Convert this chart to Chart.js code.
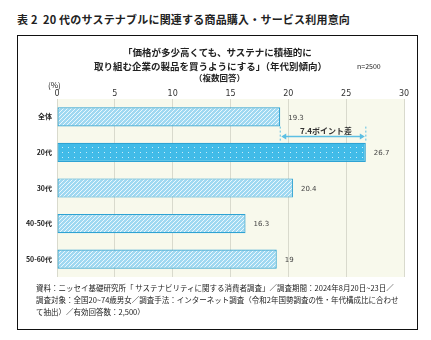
<!DOCTYPE html>
<html>
<head>
<meta charset="utf-8">
<script src="https://cdn.jsdelivr.net/npm/chart.js@4"></script>
<style>
  body { margin: 0; background: #fff; font-family: "Noto Sans CJK JP", sans-serif; }
  #wrap { position: relative; width: 431px; height: 340px; overflow: hidden; }
  #wrap div { position: absolute; white-space: nowrap; color: #222; }
  #fig { left: 17px; top: 11px; font-size: 11px; font-weight: bold; letter-spacing: 0.2px; }
  #box { left: 17px; top: 35px; width: 399px; height: 293px; border: 1.5px solid #111; }
  .ttl { font-size: 9.5px; font-weight: bold; left: 0; width: 431px; text-align: center; }
  #n { left: 357px; top: 61px; font-size: 7px; }
  #multi { left: 194px; top: 71px; font-size: 8.5px; font-weight: bold; }
  #pct { left: 48px; top: 79px; font-size: 8px; }
  #note { left: 36px; top: 282px; font-size: 7.5px; line-height: 12px; }
  canvas { position: absolute; left: 0; top: 0; }
</style>
</head>
<body>
<div id="wrap">
  <div id="fig">表 2&nbsp; 20 代のサステナブルに関連する商品購入・サービス利用意向</div>
  <div id="box"></div>
  <canvas id="chart" width="431" height="340"></canvas>
  <div class="ttl" style="top:45px; left:2px">「価格が多少高くても、サステナに積極的に</div>
  <div class="ttl" style="top:59px; left:-5px">取り組む企業の製品を買うようにする」（年代別傾向）</div>
  <div id="n">n=2500</div>
  <div id="multi">（複数回答）</div>
  <div id="pct">(%)</div>
  <div id="note">資料：ニッセイ基礎研究所「 サステナビリティに関する消費者調査」／調査期間：2024年8月20日~23日／<br>調査対象：全国20~74歳男女／調査手法：インターネット調査（令和2年国勢調査の性・年代構成比に合わせ<br>て抽出）／有効回答数：2,500）</div>
</div>

<script>
// categories and values (%)
const ages = ['全体', '20代', '30代', '40-50代', '50-60代'];
const intent = [19.3, 26.7, 20.4, 16.3, 19];
const xTicks = [0, 5, 10, 15, 20, 25, 30];
const gapLabel = '7.4ポイント差';

// diagonal hatch fill
function hatch() {
    const c = document.createElement('canvas');
    c.width = 4; c.height = 4;
    const g = c.getContext('2d');
    g.fillStyle = '#9fd8f1';
    g.fillRect(0, 0, 4, 4);
    g.strokeStyle = '#eaf7fd';
    g.lineWidth = 1;
    g.beginPath();
    g.moveTo(-1, 5); g.lineTo(5, -1);
    g.moveTo(-1, 1); g.lineTo(1, -1);
    g.moveTo(3, 5); g.lineTo(5, 3);
    g.stroke();
    return g.createPattern(c, 'repeat');
}

// dotted fill for the 20s bar
function dots() {
    const c = document.createElement('canvas');
    c.width = 6; c.height = 5;
    const g = c.getContext('2d');
    g.fillStyle = '#41bbe8';
    g.fillRect(0, 0, 6, 5);
    g.fillStyle = '#c8ecfa';
    g.fillRect(2, 2, 1, 1);
    return g.createPattern(c, 'repeat');
}

const ctx = document.getElementById('chart').getContext('2d');
const hatchFill = hatch();
const dotFill = dots();

// cream plot background
const plotBg = {
    id: 'plotBg',
    beforeDraw(chart) {
        const a = chart.chartArea, g = chart.ctx;
        g.save();
        g.fillStyle = '#f8f9ec';
        g.fillRect(a.left, a.top, a.right - a.left, a.bottom - a.top);
        g.restore();
    }
};

// value labels to the right of each bar
const valueLabels = {
    id: 'valueLabels',
    afterDatasetsDraw(chart) {
        const g = chart.ctx;
        const meta = chart.getDatasetMeta(0);
        g.save();
        g.font = '7px "DejaVu Sans"';
        g.fillStyle = '#444';
        g.textBaseline = 'middle';
        meta.data.forEach((bar, i) => {
            g.fillText(String(intent[i]), bar.x + 8, bar.y + 1);
        });
        g.restore();
    }
};

// gap arrow between 全体 and 20代
const gapArrow = {
    id: 'gapArrow',
    afterDatasetsDraw(chart) {
        const g = chart.ctx;
        const xs = chart.scales.x;
        const meta = chart.getDatasetMeta(0);
        const x1 = xs.getPixelForValue(intent[0]);
        const x2 = xs.getPixelForValue(intent[1]);
        const y = (meta.data[0].y + meta.data[1].y) / 2 + 2;
        g.save();
        g.strokeStyle = '#5cbfe3';
        g.fillStyle = '#5cbfe3';
        g.lineWidth = 1;
        g.setLineDash([2, 2]);
        g.beginPath();
        g.moveTo(x1, y - 10); g.lineTo(x1, y + 6);
        g.moveTo(x2, y - 10); g.lineTo(x2, y + 6);
        g.stroke();
        g.setLineDash([]);
        g.lineWidth = 1.5;
        g.beginPath();
        g.moveTo(x1 + 3, y); g.lineTo(x2 - 3, y);
        g.stroke();
        [[x1, 1], [x2, -1]].forEach(([x, d]) => {
            g.beginPath();
            g.moveTo(x + d, y);
            g.lineTo(x + d * 6, y - 3);
            g.lineTo(x + d * 6, y + 3);
            g.closePath();
            g.fill();
        });
        g.font = 'bold 8px "Noto Sans CJK JP"';
        g.fillStyle = '#333';
        g.textAlign = 'center';
        g.textBaseline = 'bottom';
        g.fillText(gapLabel, (x1 + x2) / 2 + 3, y - 2);
        g.restore();
    }
};

new Chart(ctx, {
    type: 'bar',
    data: {
        labels: ages,
        datasets: [{
            data: intent,
            backgroundColor: ages.map((_, i) => i === 1 ? dotFill : hatchFill),
            borderColor: '#2ea3d3',
            borderWidth: 1.2,
            borderSkipped: false,
            barPercentage: 0.54,
            categoryPercentage: 1
        }]
    },
    options: {
        indexAxis: 'y',
        responsive: false,
        animation: false,
        layout: { padding: { left: 0, top: 0, right: 27, bottom: 63 } },
        plugins: {
            legend: { display: false },
            tooltip: { enabled: false }
        },
        scales: {
            x: {
                position: 'top',
                min: 0,
                max: 30,
                afterBuildTicks: s => { s.ticks = xTicks.map(v => ({ value: v })); },
                afterFit: s => { s.height = 99; },
                grid: { color: '#d9dacd', lineWidth: 1, drawTicks: false },
                border: { display: false },
                ticks: { padding: 0, color: '#333', font: { size: 8, family: 'DejaVu Sans' } }
            },
            y: {
                afterFit: s => { s.width = 57; },
                grid: { display: false, drawTicks: false },
                border: { display: false },
                ticks: { padding: 5, color: '#222', font: { size: 7, weight: 'bold', family: 'Noto Sans CJK JP' } }
            }
        }
    },
    plugins: [plotBg, valueLabels, gapArrow]
});
</script>
</body>
</html>
